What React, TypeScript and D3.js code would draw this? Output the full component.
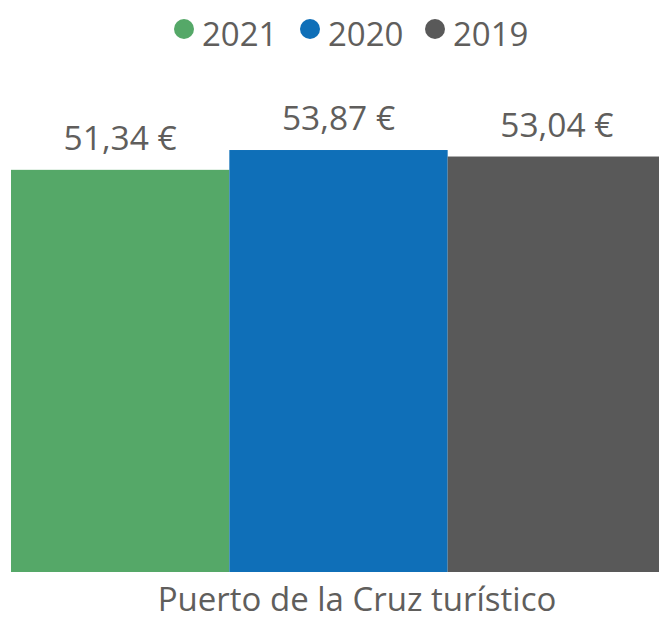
import React from "react";
import * as d3 from "d3";

const series = ["2021", "2020", "2019"];
const values = [51.34, 53.87, 53.04];
const colors = ["#55A868", "#0F6FB8", "#595959"];
const category = "Puerto de la Cruz turístico";

const W = 659;
const H = 621;

export default function App() {
  const x = d3.scaleBand<string>().domain(series).range([11, 666]).padding(0);
  const y = d3.scaleLinear().domain([0, 60]).range([572, 102]);
  const fmt = (v: number) => d3.format(".2f")(v).replace(".", ",") + " €";
  const font = "'Open Sans', 'Noto Sans', sans-serif";
  const legendX = [184, 310, 435];
  return (
    <svg width={W} height={H} style={{ position: "absolute", left: 0, top: 0 }} fontFamily={font}>
      {series.map((s, i) => (
        <g key={"l" + s}>
          <circle cx={legendX[i]} cy={29} r={10} fill={colors[i]} />
          <text x={legendX[i] + 18} y={46} fontSize={33} fill="#605E5C">{s}</text>
        </g>
      ))}
      {series.map((s, i) => (
        <rect key={s} x={x(s)} y={y(values[i])} width={x.bandwidth()} height={y(0) - y(values[i])} fill={colors[i]} />
      ))}
      {series.map((s, i) => (
        <text key={"v" + s} x={(x(s) as number) + x.bandwidth() / 2} y={y(values[i]) - 20} textAnchor="middle" fontSize={33.5} fill="#605E5C">
          {fmt(values[i])}
        </text>
      ))}
      <text x={357} y={611} textAnchor="middle" fontSize={33} fill="#605E5C">{category}</text>
    </svg>
  );
}
